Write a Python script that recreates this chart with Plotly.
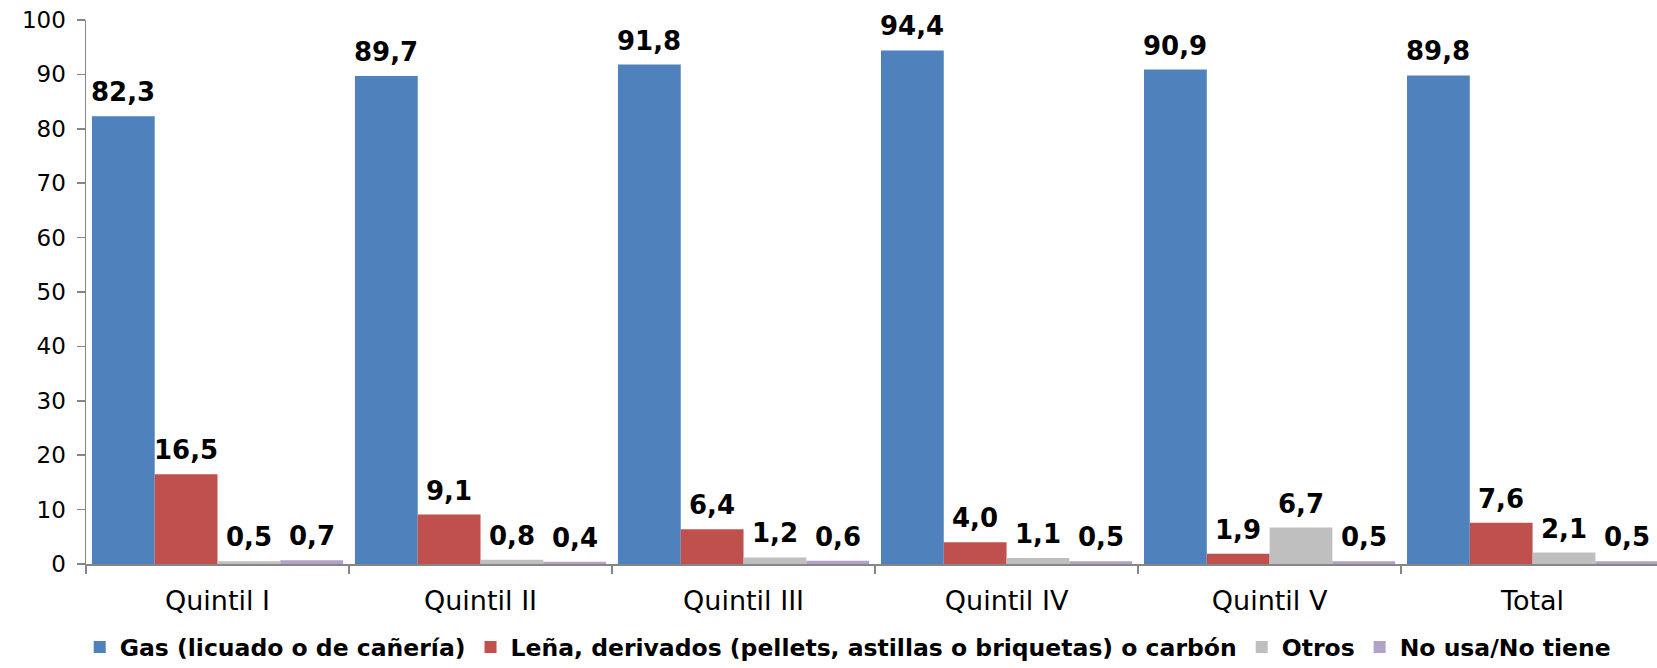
import plotly.graph_objects as go

categories = ["Quintil I", "Quintil II", "Quintil III", "Quintil IV", "Quintil V", "Total"]
series_names = [
    "Gas (licuado o de cañería)",
    "Leña, derivados (pellets, astillas o briquetas) o carbón",
    "Otros",
    "No usa/No tiene",
]
gas = [82.3, 89.7, 91.8, 94.4, 90.9, 89.8]
lena = [16.5, 9.1, 6.4, 4.0, 1.9, 7.6]
otros = [0.5, 0.8, 1.2, 1.1, 6.7, 2.1]
no_usa = [0.7, 0.4, 0.6, 0.5, 0.5, 0.5]
y_ticks = list(range(0, 101, 10))

series_values = [gas, lena, otros, no_usa]
colors = ["#4F81BD", "#C0504D", "#BFBFBF", "#B3A2C7"]

W, H = 1657, 668
margin_l, margin_r, margin_t, margin_b = 86, 0, 20, 104
x_range = [-0.5, 5.473]
bargap = 0.045

font_family = "DejaVu Sans, Verdana, sans-serif"

fig = go.Figure()
for name, vals, col in zip(series_names, series_values, colors):
    fig.add_trace(go.Bar(
        x=categories, y=vals, name=name,
        marker=dict(color=col, line=dict(width=0)),
    ))

# data labels via annotations, offset within the group computed from layout
plot_w = W - margin_l - margin_r
cat_px = plot_w / (x_range[1] - x_range[0])
bar_px = cat_px * (1 - bargap) / len(series_values)
annotations = []
for i, vals in enumerate(series_values):
    off = (i - (len(series_values) - 1) / 2) * bar_px
    for c, v in zip(categories, vals):
        annotations.append(dict(
            x=c, y=v, xref="x", yref="y",
            text=f"{v:.1f}".replace(".", ","),
            showarrow=False, xshift=off, yshift=7,
            yanchor="bottom", xanchor="center",
            font=dict(family=font_family, size=26, color="#000000", weight="bold"),
        ))

fig.update_layout(
    width=W, height=H,
    margin=dict(l=margin_l, r=margin_r, t=margin_t, b=margin_b, autoexpand=False),
    paper_bgcolor="white", plot_bgcolor="white",
    barmode="group", bargap=bargap, bargroupgap=0,
    annotations=annotations,
    font=dict(family=font_family, color="#000000"),
    showlegend=True,
    legend=dict(
        orientation="h", x=-0.004, xanchor="left", y=-0.153, yanchor="middle",
        font=dict(family=font_family, size=23.5, color="#000000", weight="bold"),
        itemwidth=30, tracegroupgap=0,
    ),
    xaxis=dict(
        range=x_range, type="category",
        showline=True, linecolor="#868686", linewidth=1.5,
        ticks="outside", tickson="boundaries", ticklen=8, tickcolor="#868686", tickwidth=1.5,
        tickfont=dict(family=font_family, size=27, color="#000000"),
        ticklabelstandoff=12,
        showgrid=False, zeroline=False, fixedrange=True,
    ),
    yaxis=dict(
        range=[0, 100], tickvals=y_ticks,
        showline=True, linecolor="#868686", linewidth=1.5,
        ticks="outside", ticklen=8, tickcolor="#868686", tickwidth=1.5,
        tickfont=dict(family=font_family, size=23, color="#000000"),
        ticklabelstandoff=6, ticklabeloverflow="allow",
        showgrid=False, zeroline=False, fixedrange=True,
    ),
)

fig.write_html(
    "out.html",
    config={"displayModeBar": False, "staticPlot": True},
    post_script="document.body.style.margin='0px';",
)
